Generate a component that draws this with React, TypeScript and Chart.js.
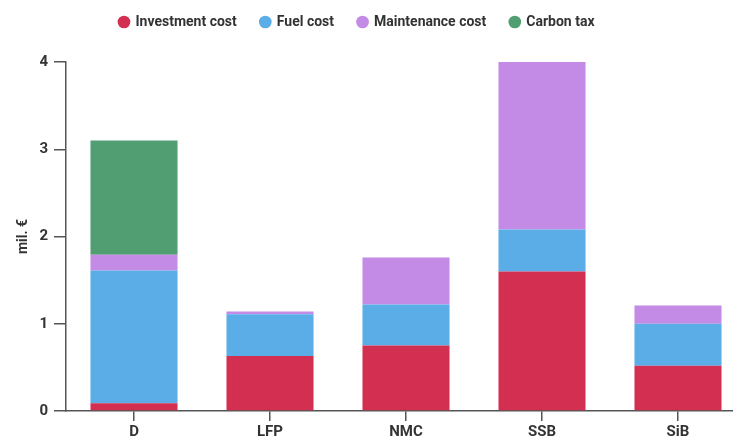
import React, { useEffect, useRef } from 'react';
import { Chart, registerables } from 'chart.js';

Chart.register(...registerables);

const categories = ['D', 'LFP', 'NMC', 'SSB', 'SiB'];
const seriesNames = ['Investment cost', 'Fuel cost', 'Maintenance cost', 'Carbon tax'];
const investmentCost = [0.09, 0.63, 0.75, 1.6, 0.52];
const fuelCost = [1.52, 0.48, 0.47, 0.48, 0.48];
const maintenanceCost = [0.18, 0.03, 0.54, 1.92, 0.21];
const carbonTax = [1.31, null, null, null, null];
const seriesColors = ['#D32F51', '#5BADE7', '#C38AE6', '#519E72'];
const yAxisTitle = 'mil. €';
const yMin = 0;
const yMax = 4;

const FONT = 'Roboto, "Noto Sans", sans-serif';
const TEXT = '#333333';
const AXIS = '#555555';

const legendHeightPlugin = {
  id: 'legendHeight',
  beforeInit(chart: any) {
    const legend = chart.legend;
    if (!legend) return;
    const origFit = legend.fit;
    legend.fit = function () {
      origFit.call(this);
      this.height = 71;
    };
  },
};

export default function App() {
  const canvasRef = useRef<HTMLCanvasElement | null>(null);

  useEffect(() => {
    document.body.style.margin = '0';
    const canvas = canvasRef.current;
    if (!canvas) return;
    const values = [investmentCost, fuelCost, maintenanceCost, carbonTax];
    const chart = new Chart(canvas, {
      type: 'bar',
      data: {
        labels: categories,
        datasets: values.map((d, i) => ({
          label: seriesNames[i],
          data: d as any,
          backgroundColor: seriesColors[i],
          borderWidth: 0,
          categoryPercentage: 0.8,
          barPercentage: 0.8,
        })),
      },
      options: {
        animation: false,
        responsive: false,
        maintainAspectRatio: false,
        layout: { padding: { left: -32, top: -9, right: 0, bottom: 0 } },
        plugins: {
          tooltip: { enabled: false },
          legend: {
            position: 'top',
            labels: {
              usePointStyle: true,
              pointStyle: 'circle',
              boxWidth: 9,
              boxHeight: 9,
              padding: 24,
              color: TEXT,
              font: { family: FONT, weight: 'bold', size: 14 },
            },
          },
        },
        scales: {
          x: {
            stacked: true,
            afterFit: (scale: any) => {
              scale.height = 26;
            },
            grid: {
              offset: false,
              drawOnChartArea: false,
              drawTicks: true,
              tickLength: 10,
              color: AXIS,
              lineWidth: 1.5,
            },
            border: { display: true, color: AXIS, width: 1.5 },
            ticks: {
              color: TEXT,
              padding: 2,
              font: { family: FONT, weight: 'bold', size: 15 },
            },
          },
          y: {
            stacked: true,
            min: yMin,
            max: yMax,
            afterFit: (scale: any) => {
              scale.width = 98;
            },
            grid: {
              drawOnChartArea: false,
              drawTicks: true,
              tickLength: 12,
              color: AXIS,
              lineWidth: 1.5,
            },
            border: { display: true, color: AXIS, width: 1.5 },
            ticks: {
              stepSize: 1,
              color: TEXT,
              padding: 6,
              font: { family: FONT, weight: 'bold', size: 15 },
            },
            title: {
              display: true,
              text: yAxisTitle,
              color: TEXT,
              padding: { top: 47, bottom: 0 },
              font: { family: FONT, weight: 'bold', size: 14 },
            },
          },
        },
      },
      plugins: [legendHeightPlugin],
    } as any);
    return () => chart.destroy();
  }, []);

  return (
    <div style={{ width: 733, height: 437, overflow: 'hidden', background: '#fff' }}>
      <canvas ref={canvasRef} width={746} height={437} style={{ display: 'block', width: 746, height: 437 }} />
    </div>
  );
}
